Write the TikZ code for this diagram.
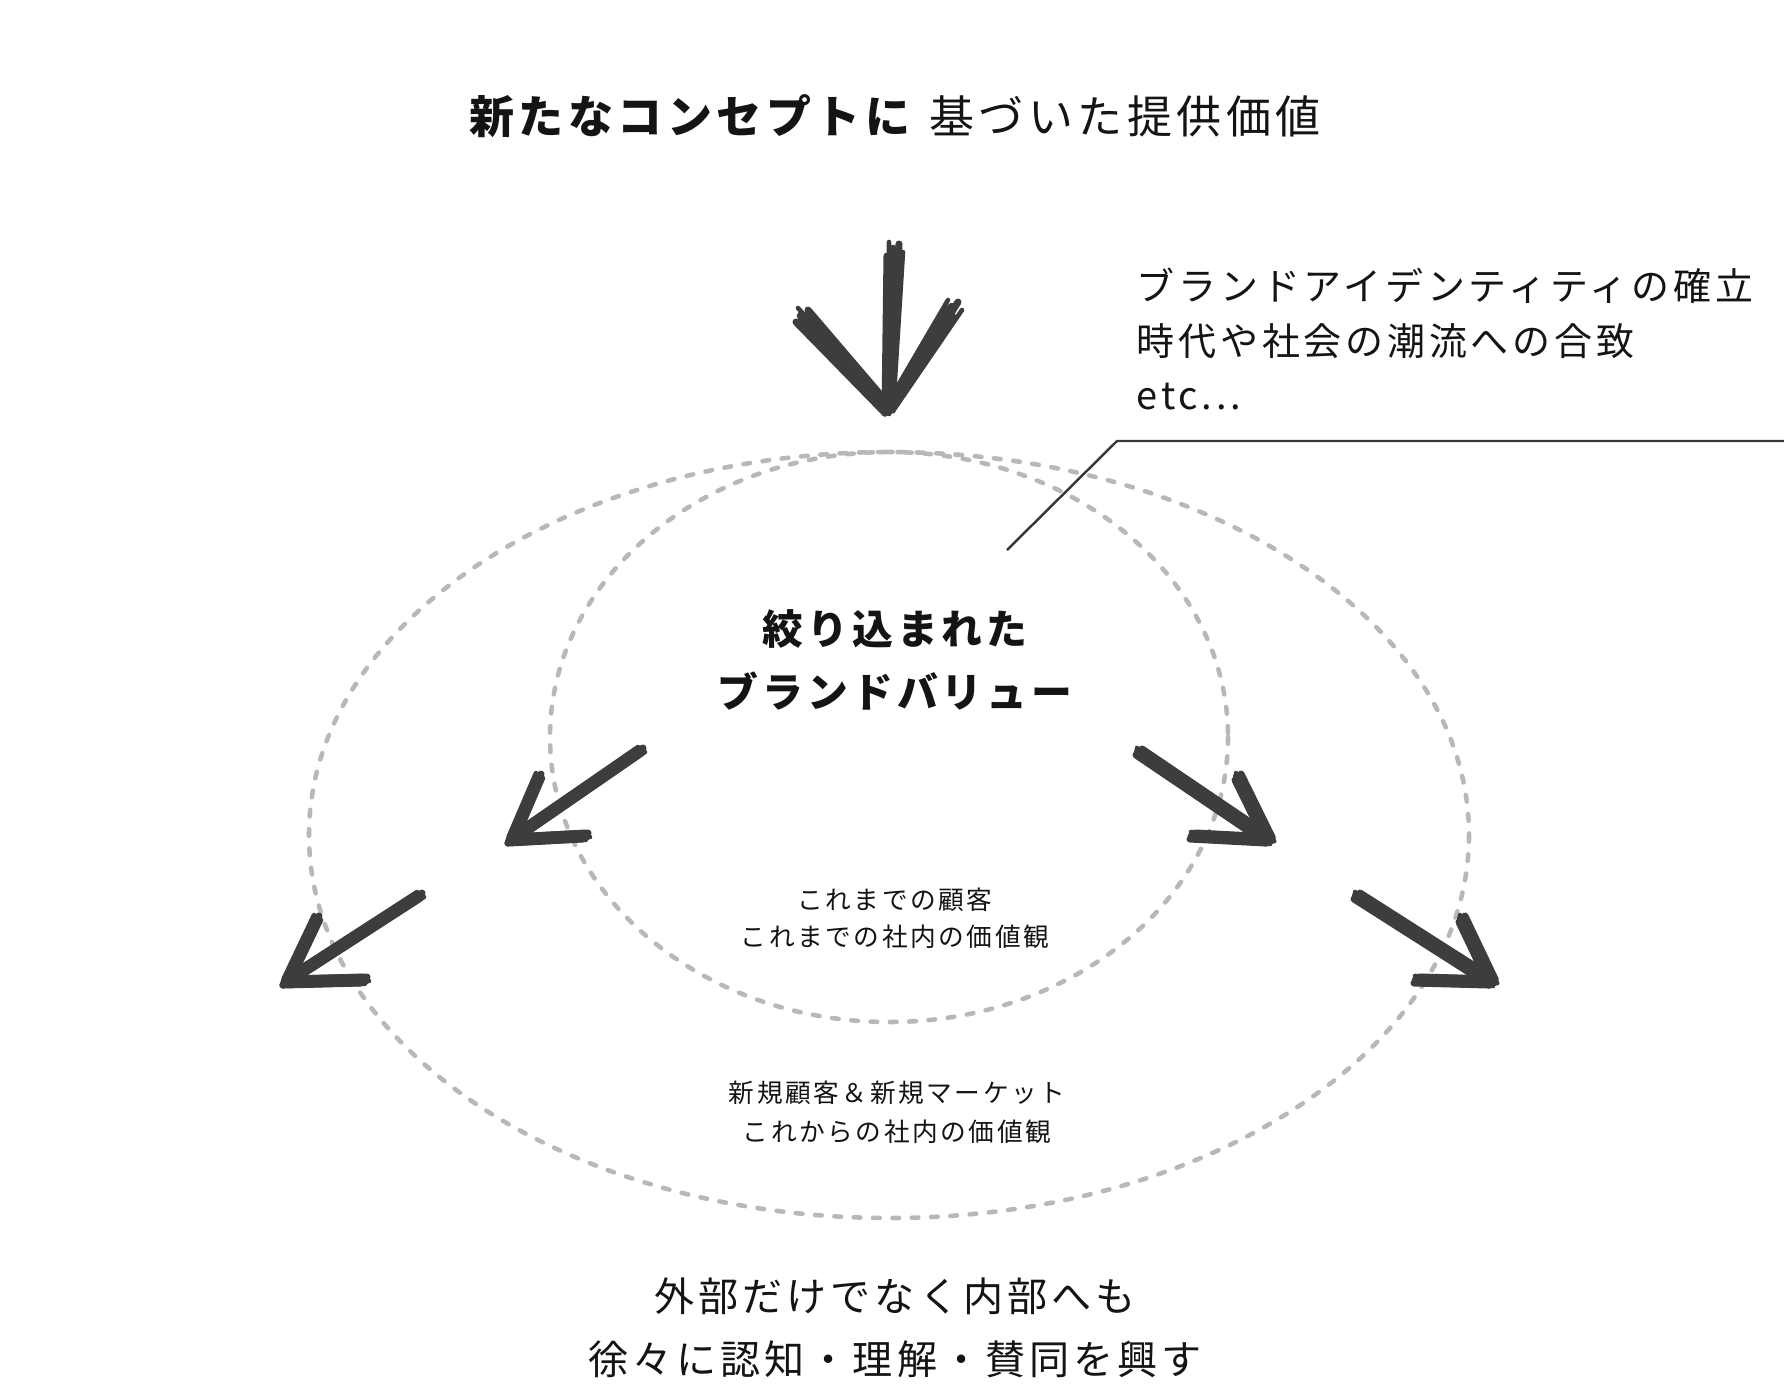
\documentclass[tikz,border=0pt]{standalone}
\usepackage{fontspec}
\setmainfont[LetterSpace=10]{Noto Sans CJK JP}
\usetikzlibrary{positioning}

% one hand drawn arrow: [spread] tip, tail, two barb ends
\newcommand\sketcharrow[5][1]{%
  \foreach \dx/\dy/\w in {0/0/3.0, 3/-3/2.0, -3/3/2.0, 5/1/1.3, -2/-4/1.3, 1/4/1.2} {
    \draw[stroke, line width=\w pt] ([shift={(#1*\dx,#1*\dy)}]#3) -- ([shift={(\dx,\dy)}]#2);
    \draw[stroke, line width=\w pt] ([shift={(#1*\dx,#1*\dy)}]#4) -- ([shift={(\dx,\dy)}]#2);
    \draw[stroke, line width=\w pt] ([shift={(#1*\dx,#1*\dy)}]#5) -- ([shift={(\dx,\dy)}]#2);
  }}

\begin{document}
\begin{tikzpicture}[x=0.01cm, y=-0.01cm,
    every node/.style={inner sep=0pt, text=black!92},
    ring/.style={draw=black!28, line width=1.3pt,
                 dash pattern=on 1.9pt off 3.6pt, line cap=round},
    stroke/.style={draw=black!76, line cap=round},
    leader/.style={draw=black!78, line width=0.7pt},
    big/.style={align=center, font=\fontsize{11.6}{17.9}\selectfont},
    small/.style={align=center, font=\fontsize{7.3}{10.6}\selectfont}]
  \useasboundingbox (0,0) rectangle (1784,1384);

  % circles of value
  \draw[ring] (889,835) ellipse [x radius=580, y radius=383];
  \draw[ring] (889,737) ellipse [x radius=339, y radius=285];

  % texts
  \node (title) at (895,116) {\fontsize{12.8}{15}\selectfont
    \textbf{新たなコンセプトに} 基づいた提供価値};
  \node (core) [big, font=\bfseries\fontsize{11.6}{17.9}\selectfont]
    at (895,660) {絞り込まれた\\ブランドバリュー};
  \node (inner) [small] at (895,918) {これまでの顧客\\これまでの社内の価値観};
  \node (outer) [small, font=\fontsize{7.3}{11.1}\selectfont]
    at (897,1112) {新規顧客＆新規マーケット\\これからの社内の価値観};
  \node (goal) [big, font=\fontsize{11.4}{17.9}\selectfont]
    at (895,1328) {外部だけでなく内部へも\\徐々に認知・理解・賛同を興す};
  \node (notes) [anchor=west, align=left, font=\fontsize{10.8}{15.6}\selectfont]
    at (1136,339) {ブランドアイデンティティの確立\\時代や社会の潮流への合致\\etc...};

  % leader to the notes
  \coordinate (lead) at (1007,550);
  \coordinate (bend) at (1117,441);
  \coordinate (edge) at (1784,441);
  \draw[leader] (lead) -- (bend) -- (edge);

  % arrow ends
  \coordinate (dtip) at (888,410);   \coordinate (dtail) at (893,250);
  \coordinate (dl) at (802,316);     \coordinate (dr) at (952,308);
  \coordinate (iltip) at (511,840);  \coordinate (iltail) at (640,751);
  \coordinate (ila) at (538,777);    \coordinate (ilb) at (585,836);
  \coordinate (irtip) at (1269,840); \coordinate (irtail) at (1139,752);
  \coordinate (ira) at (1238,777);   \coordinate (irb) at (1193,836);
  \coordinate (oltip) at (286,982);  \coordinate (oltail) at (419,896);
  \coordinate (ola) at (316,919);    \coordinate (olb) at (364,980);
  \coordinate (ortip) at (1492,982); \coordinate (ortail) at (1357,896);
  \coordinate (ora) at (1462,919);   \coordinate (orb) at (1417,980);

  % the top arrow is drawn wider
  \sketcharrow[2]{dtip}{dtail}{dl}{dr}
  \foreach \a in {il, ir, ol, or} {
    \sketcharrow{\a tip}{\a tail}{\a a}{\a b}
  }
\end{tikzpicture}
\end{document}
